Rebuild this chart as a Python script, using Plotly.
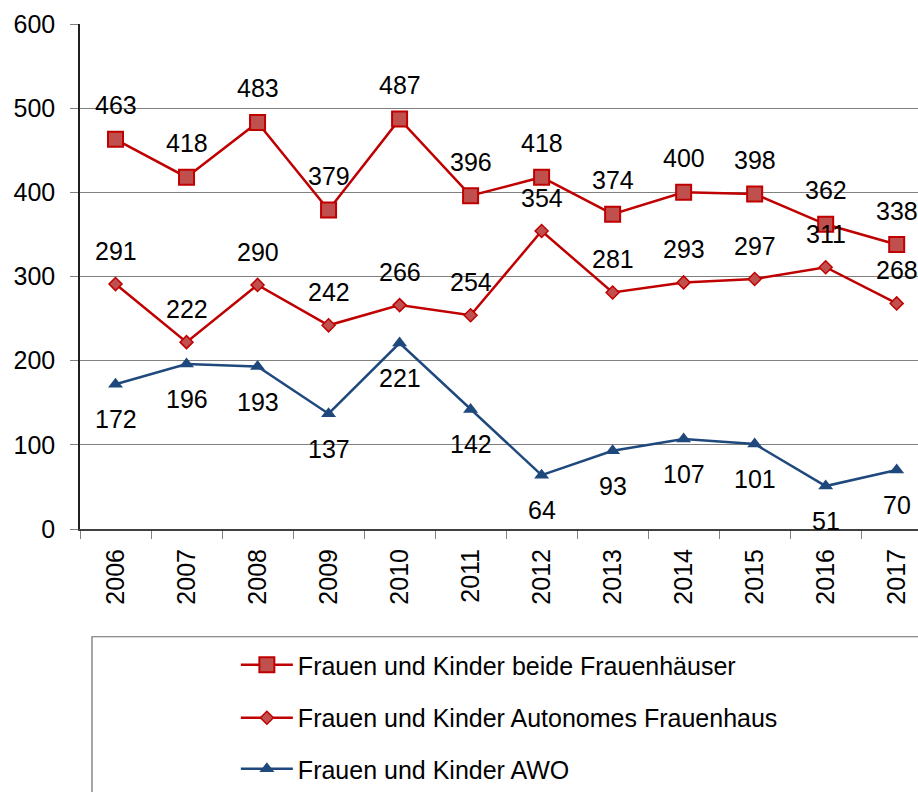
import plotly.graph_objects as go

years = ["2006", "2007", "2008", "2009", "2010", "2011", "2012", "2013", "2014", "2015", "2016", "2017"]
beide = [463, 418, 483, 379, 487, 396, 418, 374, 400, 398, 362, 338]
autonomes = [291, 222, 290, 242, 266, 254, 354, 281, 293, 297, 311, 268]
awo = [172, 196, 193, 137, 221, 142, 64, 93, 107, 101, 51, 70]

names = [
    "Frauen und Kinder beide Frauenhäuser",
    "Frauen und Kinder Autonomes Frauenhaus",
    "Frauen und Kinder AWO",
]

FONT = "Liberation Sans, Arial, sans-serif"
FS = 25
RED = "#C00000"
RED_FILL = "#C0504D"
BLUE = "#1F497D"

fig = go.Figure()
fig.add_trace(go.Scatter(
    x=years, y=beide, name=names[0], mode="lines+markers",
    line=dict(color=RED, width=2.5),
    marker=dict(symbol="square", size=15, color=RED_FILL, line=dict(color=RED, width=2)),
    legend="legend", showlegend=True,
))
fig.add_trace(go.Scatter(
    x=years, y=autonomes, name=names[1], mode="lines+markers",
    line=dict(color=RED, width=2.5),
    marker=dict(symbol="diamond", size=10, color=RED_FILL, line=dict(color=RED, width=1.5)),
    legend="legend2", showlegend=True,
))
fig.add_trace(go.Scatter(
    x=years, y=awo, name=names[2], mode="lines+markers",
    line=dict(color=BLUE, width=2.5),
    marker=dict(symbol="triangle-up", size=13, color=BLUE, line=dict(color=BLUE, width=0)),
    legend="legend3", showlegend=True,
))

annotations = []
for series, shift in ((beide, 34), (autonomes, 33), (awo, -35)):
    for i, v in enumerate(series):
        annotations.append(dict(
            x=i, y=v, xref="x", yref="y", text=str(v), showarrow=False,
            yshift=shift, font=dict(family=FONT, size=FS, color="black"),
        ))

legend_common = dict(xanchor="left", yanchor="middle", bgcolor="rgba(0,0,0,0)",
                     font=dict(family=FONT, size=FS, color="black"), itemwidth=52)

fig.update_layout(
    width=918, height=792,
    showlegend=True,
    margin=dict(l=80, r=0, t=24, b=262),
    paper_bgcolor="white", plot_bgcolor="white",
    font=dict(family=FONT, size=FS, color="black"),
    annotations=annotations,
    shapes=[dict(type="rect", xref="paper", yref="paper",
                 x0=0.0143, x1=1.05, y0=-0.6, y1=-0.2134,
                 line=dict(color="#6b6b6b", width=1.2), fillcolor="rgba(0,0,0,0)")],
    legend=dict(x=0.186, y=-0.2668, visible=True, **legend_common),
    legend2=dict(x=0.186, y=-0.3715, visible=True, **legend_common),
    legend3=dict(x=0.186, y=-0.4743, visible=True, **legend_common),
    xaxis=dict(
        type="category", range=[-0.5, 11.3], tickson="boundaries",
        ticks="outside", ticklen=8, tickcolor="#808080", tickwidth=1,
        tickangle=-90, showgrid=False, showline=True, linecolor="#404040", linewidth=2,
        tickfont=dict(family=FONT, size=FS, color="black"), ticklabelstandoff=8,
        zeroline=False,
    ),
    yaxis=dict(
        range=[0, 600], dtick=100, tick0=0, showgrid=True, gridcolor="#808080", gridwidth=1,
        ticks="outside", ticklen=8, tickcolor="#808080", tickwidth=1,
        showline=True, linecolor="#202020", linewidth=1.5, zeroline=False,
        tickfont=dict(family=FONT, size=FS, color="black"), ticklabelstandoff=10,
    ),
)

fig.write_html("out.html", config={"displayModeBar": False},
               post_script="document.body.style.margin='0px';document.body.style.overflow='hidden';")
